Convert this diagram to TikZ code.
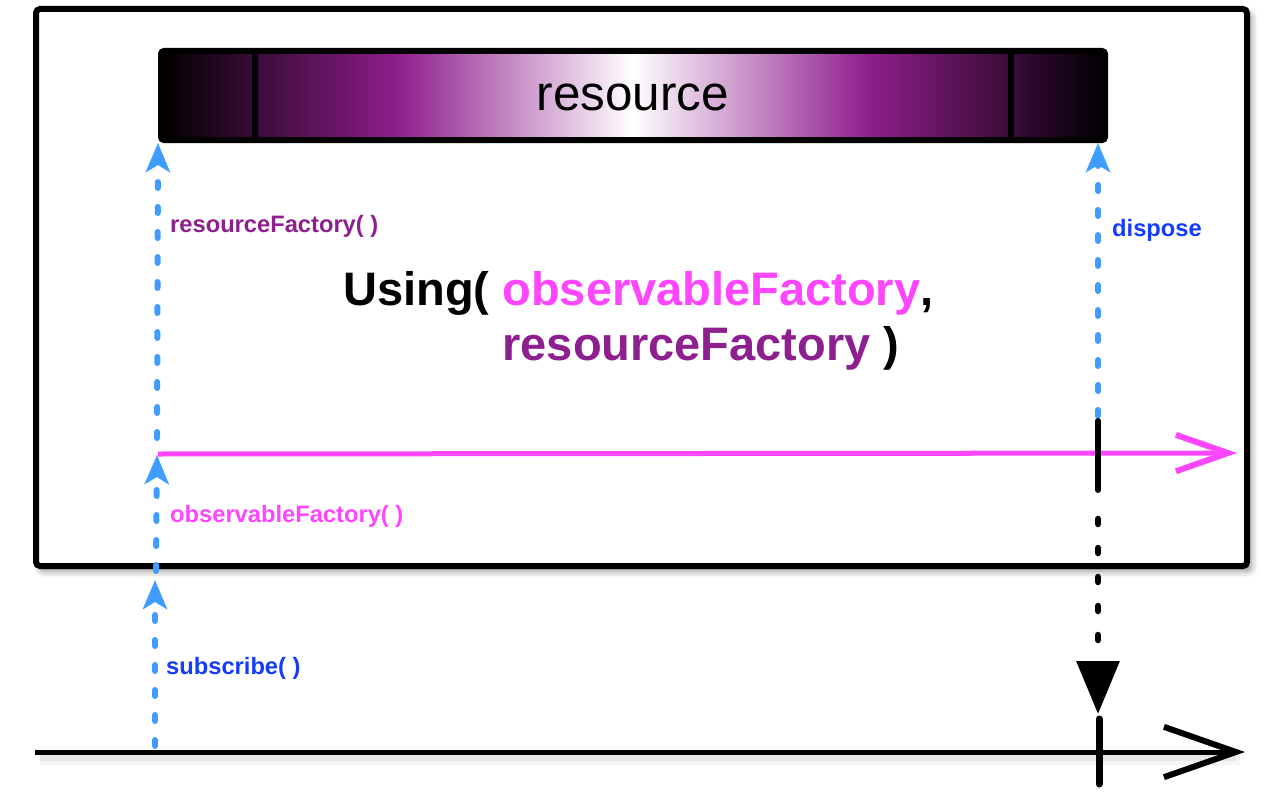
\documentclass[tikz,border=0pt]{standalone}
\usepackage{fontspec}
\setmainfont{Liberation Sans}
\usetikzlibrary{arrows.meta,shadows.blur}
\definecolor{pinkc}{RGB}{255,70,255}
\definecolor{purp}{RGB}{142,31,142}
\definecolor{barpurp}{RGB}{142,30,140}
\definecolor{bluet}{RGB}{20,60,255}
\definecolor{lblue}{RGB}{62,157,255}
\begin{document}
\begin{tikzpicture}[x=1pt,y=-1pt,
  lab/.style={font=\fontsize{23.7}{28}\selectfont\bfseries, anchor=base west, inner sep=0pt},
  bigtxt/.style={font=\fontsize{47}{55}\selectfont\bfseries, anchor=base west, inner sep=0pt, align=left},
  bdash/.style={lblue, line width=6pt, line cap=round, dash pattern=on 6pt off 19pt,
     -{Stealth[length=29pt,width=24pt,inset=7pt]}},
  kdot/.style={black, line width=6.5pt, line cap=round, dash pattern=on 5pt off 24pt,
     -{Triangle[length=53pt,width=42pt]}},
  ksolid/.style={black, line width=6pt, line cap=round},
  openarrow/.style={line width=5pt, -{Straight Barb[length=#1pt,width=0.7*#1pt,line width=6pt]}},
]
\useasboundingbox (0,0) rectangle (1280,800);

% outer box
\node[draw, fill=white, line width=6pt, rounded corners=4pt,
      minimum width=1211pt, minimum height=557pt, inner sep=0pt,
      blur shadow={shadow xshift=4pt, shadow yshift=-5pt, shadow blur radius=7pt, shadow opacity=45}]
      (box) at (641.5,287.5) {};

% resource bar
\shade[left color=black, right color=white, middle color=barpurp] (161,51) rectangle (633.5,140);
\shade[left color=white, right color=black, middle color=barpurp] (632.5,51) rectangle (1105,140);
\node[draw, line width=6pt, rounded corners=3pt, minimum width=944pt, minimum height=89pt,
      inner sep=0pt, text height=30pt, text depth=0pt,
      font=\fontsize{49.4}{55}\selectfont] (res) at (633,95.5) {resource};
\draw[line width=6pt] (255,51) -- (255,140);
\draw[line width=6pt] (1011,51) -- (1011,140);

% coordinates
\coordinate (subA) at (155,746);
\coordinate (subB) at (155,580);
\coordinate (obsA) at (156,571);
\coordinate (obsB) at (157,455);
\coordinate (resA) at (157,438);
\coordinate (resB) at (158,143);
\coordinate (dispA) at (1098,416);
\coordinate (dispB) at (1098,143);
\coordinate (pinkA) at (158,454);
\coordinate (pinkB) at (1237,453);
\coordinate (tlA) at (35,752);
\coordinate (tlB) at (1245,752);
\coordinate (kA) at (1098,421);
\coordinate (kB) at (1098,490);
\coordinate (kC) at (1098,519);
\coordinate (kD) at (1098,714);
\coordinate (tickA) at (1099,719);
\coordinate (tickB) at (1099,784);

% timeline shadow
\draw[black, opacity=0.04, line width=14pt] (40,758) -- (1240,758);
\draw[black, opacity=0.06, line width=8pt] (40,757) -- (1236,757);

% pink observable line
\draw[pinkc, openarrow=52] (pinkA) -- (pinkB);
% bottom timeline
\draw[black, openarrow=72] (tlA) -- (tlB);

% blue dashed arrows
\draw[bdash] (subA) -- (subB);
\draw[bdash] (obsA) -- (obsB);
\draw[bdash] (resA) -- (resB);
\draw[bdash] (dispA) -- (dispB);

% black dispose line
\draw[ksolid] (kA) -- (kB);
\draw[kdot] (kC) -- (kD);
\draw[black, line width=7pt, line cap=round] (tickA) -- (tickB);

% labels
\node[lab, text=purp] (lres) at (170,232) {resourceFactory( )};
\node[lab, text=bluet] (ldisp) at (1112,236) {dispose};
\node[lab, text=pinkc] (lobs) at (170,522) {observableFactory( )};
\node[lab, text=bluet] (lsub) at (166,674) {subscribe( )};

\node[bigtxt] (using) at (343,360)
  {Using( \textcolor{pinkc}{observableFactory},\\
   \phantom{Using( }\textcolor{purp}{resourceFactory} )};
\end{tikzpicture}
\end{document}
